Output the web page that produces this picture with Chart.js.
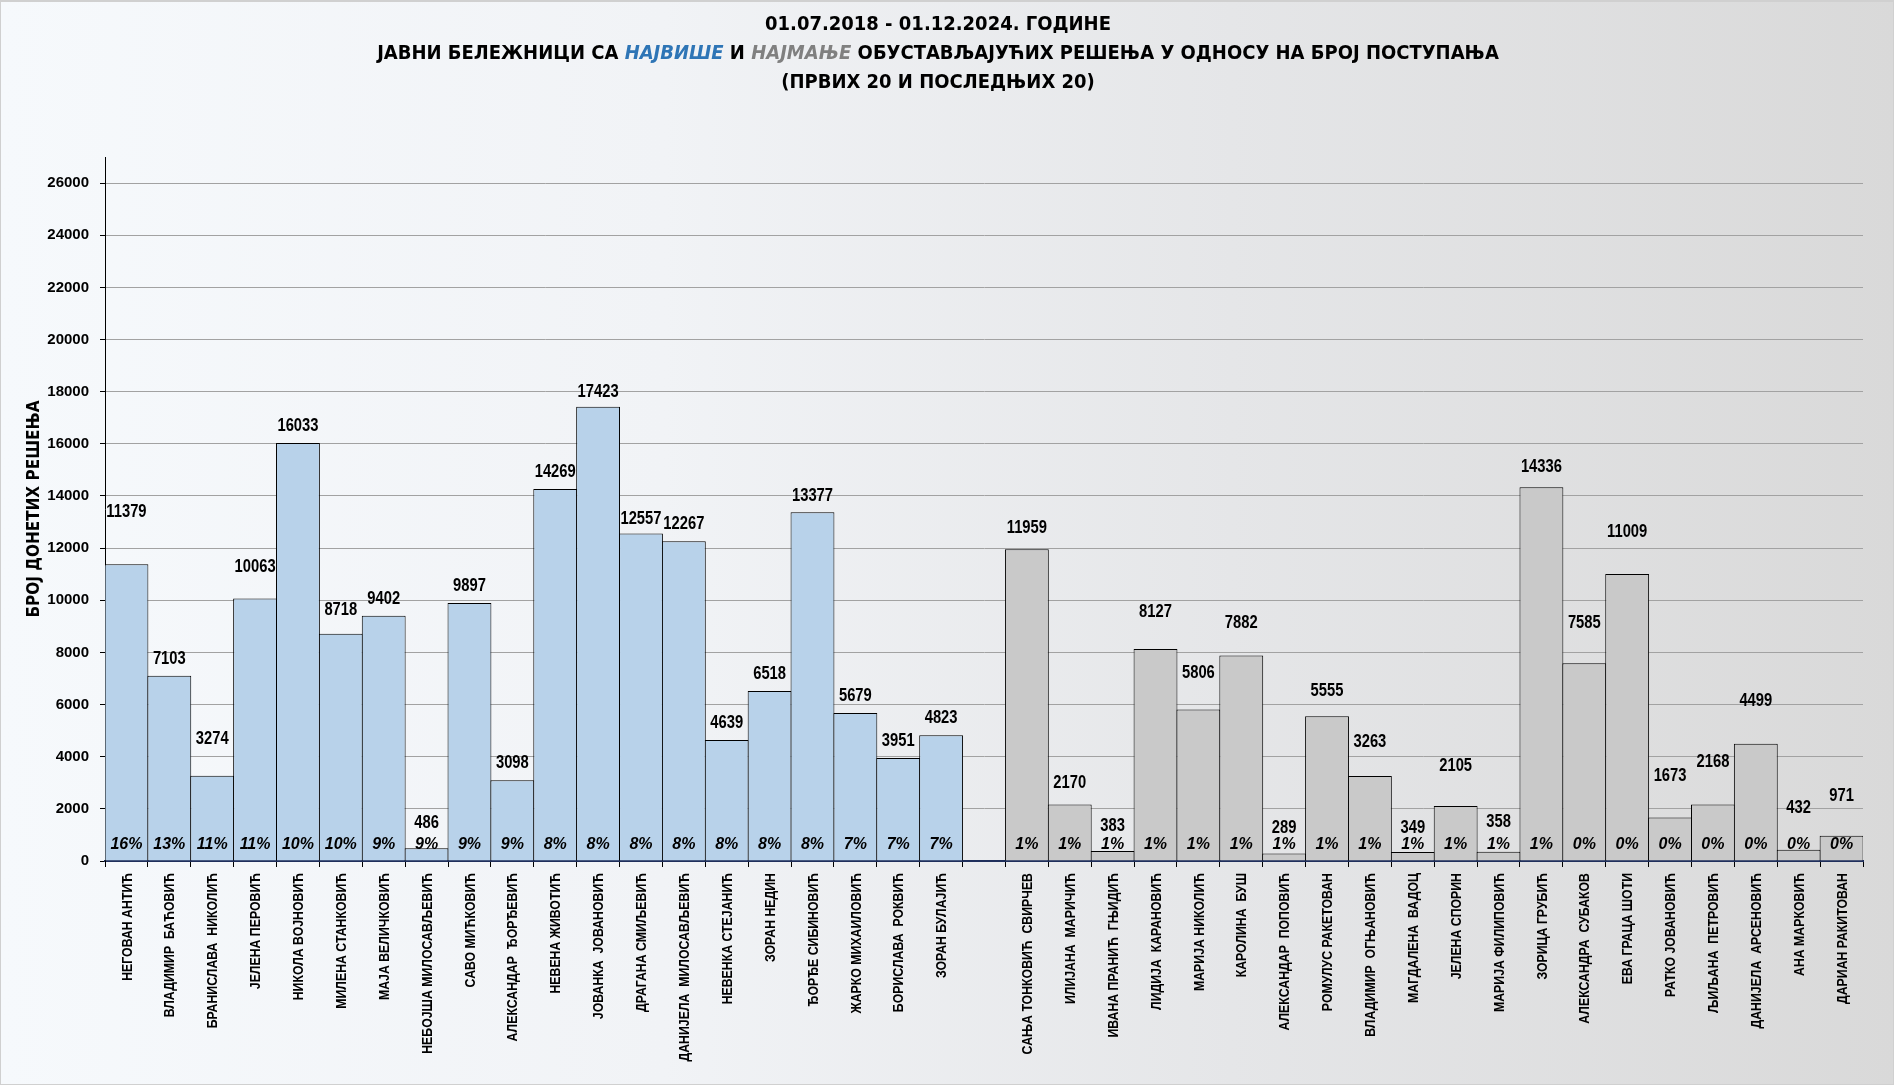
<!DOCTYPE html>
<html>
<head>
<meta charset="utf-8">
<script src="https://cdn.jsdelivr.net/npm/chart.js@4.4.1/dist/chart.umd.min.js"></script>
<style>
    html, body { margin: 0; padding: 0; }
    #wrap {
        position: relative;
        width: 1894px;
        height: 1085px;
        overflow: hidden;
        background: linear-gradient(to right, #f6f9fc 0%, #f1f3f6 35%, #e5e6e8 65%, #d9d9d9 100%);
        box-shadow: inset 1px 2px 0 #d0d0d0, inset -1px -1px 0 #d0d0d0;
    }
    #title {
        position: absolute;
        left: 0;
        top: 9px;
        width: 1876px;
        text-align: center;
        font-family: 'DejaVu Sans Condensed', 'DejaVu Sans', sans-serif;
        font-weight: bold;
        font-size: 20px;
        line-height: 29px;
        color: #000;
    }
    #title .hi { color: #2e75b6; font-style: italic; }
    #title .lo { color: #808080; font-style: italic; }
    canvas { position: absolute; left: 0; top: 0; }
</style>
</head>
<body>
<div id="wrap">
    <canvas id="chart" width="1894" height="1085"></canvas>
    <div id="title">
        01.07.2018 - 01.12.2024. ГОДИНЕ<br>
        ЈАВНИ БЕЛЕЖНИЦИ СА <span class="hi">НАЈВИШЕ</span> И <span class="lo">НАЈМАЊЕ</span> ОБУСТАВЉАЈУЋИХ РЕШЕЊА У ОДНОСУ НА БРОЈ ПОСТУПАЊА<br>
        (ПРВИХ 20 И ПОСЛЕДЊИХ 20)
    </div>
</div>
<script>
// ---- Data ----
const topNames = [
    'НЕГОВАН АНТИЋ', 'ВЛАДИМИР  БАЋОВИЋ', 'БРАНИСЛАВА  НИКОЛИЋ', 'ЈЕЛЕНА ПЕРОВИЋ',
    'НИКОЛА ВОЈНОВИЋ', 'МИЛЕНА СТАНКОВИЋ', 'МАЈА ВЕЛИЧКОВИЋ', 'НЕБОЈША МИЛОСАВЉЕВИЋ',
    'САВО МИЋКОВИЋ', 'АЛЕКСАНДАР  ЂОРЂЕВИЋ', 'НЕВЕНА ЖИВОТИЋ', 'ЈОВАНКА  ЈОВАНОВИЋ',
    'ДРАГАНА СМИЉЕВИЋ', 'ДАНИЈЕЛА  МИЛОСАВЉЕВИЋ', 'НЕВЕНКА СТЕЈАНИЋ', 'ЗОРАН НЕДИН',
    'ЂОРЂЕ СИБИНОВИЋ', 'ЖАРКО МИХАИЛОВИЋ', 'БОРИСЛАВА  РОКВИЋ', 'ЗОРАН БУЛАЈИЋ'
];
const topValues = [11379, 7103, 3274, 10063, 16033, 8718, 9402, 486, 9897, 3098,
                   14269, 17423, 12557, 12267, 4639, 6518, 13377, 5679, 3951, 4823];
const topShares = [16, 13, 11, 11, 10, 10, 9, 9, 9, 9, 8, 8, 8, 8, 8, 8, 8, 7, 7, 7];

const bottomNames = [
    'САЊА ТОНКОВИЋ  СВИРЧЕВ', 'ИЛИЈАНА  МАРИЧИЋ', 'ИВАНА ПРАНИЋ  ГЊИДИЋ', 'ЛИДИЈА  КАРАНОВИЋ',
    'МАРИЈА НИКОЛИЋ', 'КАРОЛИНА  БУШ', 'АЛЕКСАНДАР  ПОПОВИЋ', 'РОМУЛУС РАКЕТОВАН',
    'ВЛАДИМИР  ОГЊАНОВИЋ', 'МАГДАЛЕНА  ВАДОЦ', 'ЈЕЛЕНА СПОРИН', 'МАРИЈА ФИЛИПОВИЋ',
    'ЗОРИЦА ГРУБИЋ', 'АЛЕКСАНДРА  СУБАКОВ', 'ЕВА ГРАЦА ШОТИ', 'РАТКО ЈОВАНОВИЋ',
    'ЉИЉАНА  ПЕТРОВИЋ', 'ДАНИЈЕЛА  АРСЕНОВИЋ', 'АНА МАРКОВИЋ', 'ДАРИАН РАКИТОВАН'
];
const bottomValues = [11959, 2170, 383, 8127, 5806, 7882, 289, 5555, 3263, 349,
                      2105, 358, 14336, 7585, 11009, 1673, 2168, 4499, 432, 971];
const bottomShares = [1, 1, 1, 1, 1, 1, 1, 1, 1, 1, 1, 1, 1, 0, 0, 0, 0, 0, 0, 0];

const yTicks = [0, 2000, 4000, 6000, 8000, 10000, 12000, 14000, 16000, 18000, 20000, 22000, 24000, 26000];
const yTitle = 'БРОЈ ДОНЕТИХ РЕШЕЊА';

// how far (px) each value label sits above its bar, as placed in the original
const topLabelLift = [52, 17, 37, 32, 17, 24, 17, 25, 17, 17, 17, 15, 15, 17, 17, 17, 16, 17, 17, 17];
const bottomLabelLift = [21, 21, 25, 37, 37, 32, 25, 25, 34, 24, 40, 30, 20, 40, 42, 41, 42, 43, 42, 40];

// one empty slot between the two groups
const labels = [...topNames, '', ...bottomNames];
const values = [...topValues, null, ...bottomValues];
const shares = [...topShares, null, ...bottomShares];
const lifts = [...topLabelLift, 0, ...bottomLabelLift];
const fills = [...topNames.map(() => '#b8d2ea'), 'transparent', ...bottomNames.map(() => '#c9c9c9')];

const CONDENSED = "'DejaVu Sans Condensed', 'DejaVu Sans', sans-serif";
const ARIAL = "'Liberation Sans', Arial, sans-serif";
const NARROW = 0.82; // horizontal squeeze that turns Arial into Arial Narrow

// ---- Value and share labels, narrow category names ----
const barLabels = {
    id: 'barLabels',
    afterDatasetsDraw(chart) {
        const ctx = chart.ctx;
        const meta = chart.getDatasetMeta(0);
        const yZero = chart.scales.y.getPixelForValue(0);
        ctx.save();
        ctx.fillStyle = '#000';
        ctx.textAlign = 'center';
        ctx.textBaseline = 'middle';
        meta.data.forEach((bar, i) => {
            if (values[i] == null) return;
            ctx.save();
            ctx.translate(bar.x, bar.y - lifts[i]);
            ctx.scale(NARROW, 1);
            ctx.font = 'bold 18px ' + ARIAL;
            ctx.fillText(String(values[i]), 0, 0);
            ctx.restore();

            ctx.font = 'italic bold 16px ' + ARIAL;
            ctx.fillText(shares[i] + '%', bar.x, yZero - 16);
        });
        ctx.restore();
    },
    afterDraw(chart) {
        const ctx = chart.ctx;
        const xs = chart.scales.x;
        ctx.save();
        ctx.fillStyle = '#000';
        ctx.textAlign = 'right';
        ctx.textBaseline = 'middle';
        ctx.font = 'bold 15px ' + ARIAL;
        labels.forEach((name, i) => {
            if (!name) return;
            ctx.save();
            ctx.translate(xs.getPixelForValue(i) + 1, xs.top + 12);
            ctx.rotate(-Math.PI / 2);
            ctx.scale(NARROW, 1);
            ctx.fillText(name, 0, 0);
            ctx.restore();
        });
        ctx.restore();
    }
};

new Chart(document.getElementById('chart'), {
    type: 'bar',
    data: {
        labels: labels,
        datasets: [{
            data: values,
            backgroundColor: fills,
            borderColor: '#000',
            borderWidth: 1,
            categoryPercentage: 1,
            barPercentage: 1.023
        }]
    },
    options: {
        responsive: false,
        devicePixelRatio: 1,
        animation: false,
        layout: { padding: { top: 157, right: 31, left: 0, bottom: 0 } },
        plugins: {
            legend: { display: false },
            tooltip: { enabled: false }
        },
        scales: {
            x: {
                z: 1,
                afterFit: (s) => { s.height = 224; },
                border: { color: '#1f2f5c', width: 2 },
                grid: {
                    drawOnChartArea: false,
                    tickLength: 6,
                    tickColor: '#000'
                },
                ticks: { display: false, autoSkip: false }
            },
            y: {
                min: 0,
                max: 27000,
                afterFit: (s) => { s.width = 105; },
                afterBuildTicks: (s) => { s.ticks = yTicks.map(v => ({ value: v })); },
                border: { color: '#000', width: 1 },
                grid: {
                    color: (c) => (c.tick && c.tick.value === 0) ? 'transparent' : '#a2a2a2',
                    lineWidth: 1,
                    tickLength: 5,
                    tickColor: '#000'
                },
                ticks: {
                    padding: 11,
                    color: '#000',
                    callback: (v) => String(v),
                    font: { family: ARIAL, size: 15, weight: 'bold' }
                },
                title: {
                    display: true,
                    text: yTitle,
                    color: '#000',
                    padding: { top: 24, bottom: 0 },
                    font: { family: CONDENSED, size: 17, weight: 'bold' }
                }
            }
        }
    },
    plugins: [barLabels]
});
</script>
</body>
</html>
